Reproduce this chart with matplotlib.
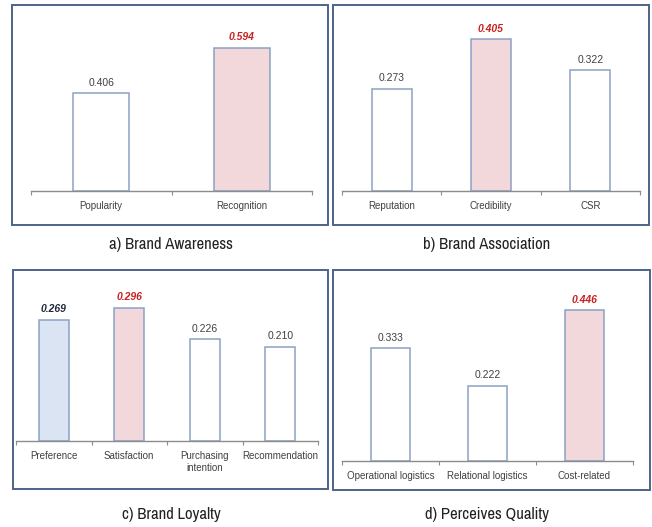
import numpy as np
import matplotlib
matplotlib.use("Agg")
import matplotlib.pyplot as plt
from matplotlib.patches import Rectangle

# four brand-equity panels: category names, weights, highlight colours
awareness_labels = ['Popularity', 'Recognition']
awareness_values = [0.406, 0.594]

association_labels = ['Reputation', 'Credibility', 'CSR']
association_values = [0.273, 0.405, 0.322]

loyalty_labels = ['Preference', 'Satisfaction', 'Purchasing\nintention', 'Recommendation']
loyalty_values = [0.269, 0.296, 0.226, 0.210]

quality_labels = ['Operational logistics', 'Relational logistics', 'Cost-related']
quality_values = [0.333, 0.222, 0.446]

WHITE = '#ffffff'
PINK = '#f2d8da'
BLUE = '#dbe4f2'

W, H = 652, 527
fig = plt.figure(figsize=(W / 100, H / 100), dpi=100)
fig.patch.set_facecolor('white')


def px_rect(x0, y0, x1, y1):
    # pixel box (top-left origin) -> figure fraction [left, bottom, width, height]
    return [x0 / W, 1 - y1 / H, (x1 - x0) / W, (y1 - y0) / H]


def panel(labels, values, fills, styles, axbox, ymax, frame, title, title_xy):
    fx0, fy0, fx1, fy1 = frame
    fig.patches.append(Rectangle((fx0 / W, 1 - fy1 / H), (fx1 - fx0) / W, (fy1 - fy0) / H,
                                 transform=fig.transFigure, fill=False,
                                 edgecolor='#4d6389', linewidth=1.4))
    ax = fig.add_axes(px_rect(*axbox))
    x = np.arange(len(values))
    ax.bar(x, values, width=0.40, color=fills, edgecolor='#8aa2c4', linewidth=1.1, zorder=2)
    for xi, v, st in zip(x, values, styles):
        if st == 'red':
            kw = dict(color='#cc2020', fontweight='bold', fontstyle='italic')
        elif st == 'bold':
            kw = dict(color='#1f2a3a', fontweight='bold', fontstyle='italic')
        else:
            kw = dict(color='#404040')
        ax.annotate(f'{v:.3f}', (xi, v), xytext=(0, 4), textcoords='offset points',
                    ha='center', va='bottom', fontsize=7.5, family='Liberation Sans', **kw)
    ax.set_xlim(-0.5, len(values) - 0.5)
    ax.set_ylim(0, ymax)
    for s in ['top', 'right', 'left']:
        ax.spines[s].set_visible(False)
    ax.spines['bottom'].set_color('#8c8c8c')
    ax.spines['bottom'].set_linewidth(1.0)
    ax.set_yticks([])
    ax.set_xticks(x)
    ax.set_xticklabels(labels, fontsize=7, family='Liberation Sans', color='#404040',
                       linespacing=1.15)
    ax.tick_params(axis='x', which='major', length=0, pad=7.5)
    ax.set_xticks(np.arange(len(values) + 1) - 0.5, minor=True)
    ax.tick_params(axis='x', which='minor', length=3, color='#8c8c8c', width=0.8)
    ax.patch.set_alpha(0)
    fig.text(title_xy[0] / W, 1 - title_xy[1] / H, title, ha='center', va='center',
             fontsize=12, family=['Archivo Narrow', 'DejaVu Sans'], color='#222222')
    return ax


panel(awareness_labels, awareness_values, [WHITE, PINK], ['n', 'red'],
      (31, 10, 312, 191), 181 / 241, (12, 5, 328, 225), 'a) Brand Awareness', (171, 245))
panel(association_labels, association_values, [WHITE, PINK, WHITE], ['n', 'red', 'n'],
      (342, 10, 640, 191), 181 / 375, (333, 5, 649, 225), 'b) Brand Association', (487, 245))
panel(loyalty_labels, loyalty_values, [BLUE, PINK, WHITE, WHITE], ['bold', 'red', 'n', 'n'],
      (16, 275, 318, 441), 166 / 450, (13, 270, 328, 489), 'c) Brand Loyalty', (171, 515))
panel(quality_labels, quality_values, [WHITE, WHITE, PINK], ['n', 'n', 'red'],
      (342, 275, 633, 461), 186 / 338, (333, 270, 650, 490), 'd) Perceives Quality', (487, 515))

fig.savefig('out.png', dpi=100)
